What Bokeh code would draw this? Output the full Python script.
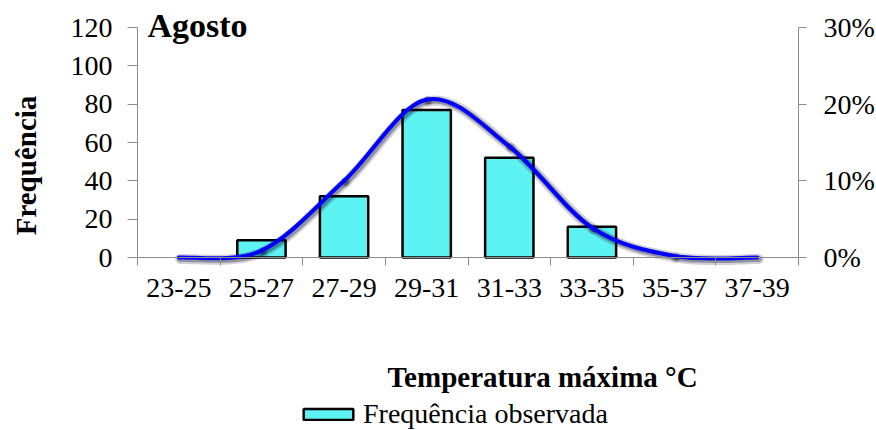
import numpy as np
from bokeh.plotting import figure
from bokeh.models import (Range1d, LinearAxis, FixedTicker, NumeralTickFormatter,
                          Label, Legend, LegendItem)
from bokeh.embed import file_html
from bokeh.resources import INLINE

# ---- data ----
categories = ["23-25", "25-27", "27-29", "29-31", "31-33", "33-35", "35-37", "37-39"]
observed = [0, 9, 32, 77, 52, 16, 0, 0]                  # Frequência observada
expected_pct = [0.0, 0.9, 10.0, 20.6, 14.5, 3.9, 0.2, 0.0]  # curva (eixo direito, %)
left_ticks = [0, 20, 40, 60, 80, 100, 120]
right_ticks = [0.0, 0.10, 0.20, 0.30]
left_max = 120
right_max = 0.30

FONT = "Liberation Serif"
AXIS_GRAY = "#8c8c8c"

W, H = 876, 430
# plot-area placement (pixels) inside the canvas
PX_L, PX_R, PX_T, PX_B = 137, 798, 27, 257

n = len(categories)
centers = [i + 0.5 for i in range(n)]

sx = (PX_R - PX_L) / n            # px per category
sy = (PX_B - PX_T) / left_max     # px per frequency unit
x0r = -PX_L / sx
x1r = (W - PX_L) / sx
y1r = PX_B / sy
y0r = -(H - PX_B) / sy
k = right_max / left_max

p = figure(width=W, height=H, output_backend="svg", toolbar_location=None,
           x_range=Range1d(x0r, x1r), y_range=Range1d(y0r, y1r),
           x_axis_location=None, y_axis_location=None,
           min_border=0, min_border_left=0, min_border_right=0,
           min_border_top=0, min_border_bottom=0)
p.outline_line_color = None
p.grid.visible = False
p.background_fill_color = "white"
p.border_fill_color = "white"
p.extra_y_ranges = {"pct": Range1d(y0r * k, y1r * k)}

# x axis
xa = LinearAxis(fixed_location=0, bounds=(0, n),
                ticker=FixedTicker(ticks=centers, minor_ticks=list(range(n + 1))))
xa.major_label_overrides = {c: lab for c, lab in zip(centers, categories)}
xa.major_tick_out = 0
xa.major_tick_in = 0
xa.minor_tick_out = 8
xa.minor_tick_in = 0
xa.minor_tick_line_color = AXIS_GRAY
xa.axis_line_color = AXIS_GRAY
xa.major_label_standoff = 13
xa.major_label_text_font = FONT
xa.major_label_text_font_size = "28px"
xa.major_label_text_color = "black"
p.add_layout(xa, "below")

# left axis
ya = LinearAxis(fixed_location=0, bounds=(0, left_max),
                ticker=FixedTicker(ticks=left_ticks, minor_ticks=[]))
ya.major_tick_out = 10
ya.major_tick_in = 0
ya.minor_tick_out = 0
ya.major_tick_line_color = AXIS_GRAY
ya.axis_line_color = AXIS_GRAY
ya.major_label_standoff = 15
ya.major_label_text_font = FONT
ya.major_label_text_font_size = "28px"
ya.major_label_text_color = "black"
p.add_layout(ya, "left")

# right axis
ra = LinearAxis(y_range_name="pct", fixed_location=n, bounds=(0, right_max),
                ticker=FixedTicker(ticks=right_ticks, minor_ticks=[]),
                formatter=NumeralTickFormatter(format="0%"))
ra.major_tick_out = 8
ra.major_tick_in = 0
ra.minor_tick_out = 0
ra.major_tick_line_color = AXIS_GRAY
ra.axis_line_color = AXIS_GRAY
ra.major_label_standoff = 17
ra.major_label_text_font = FONT
ra.major_label_text_font_size = "28px"
ra.major_label_text_color = "black"
p.add_layout(ra, "right")

# bars
bx = [c for c, v in zip(centers, observed) if v > 0]
bt = [v for v in observed if v > 0]
bars = p.vbar(x=bx, top=bt, bottom=0, width=0.585, fill_color="#5EF3F3",
              line_color="black", line_width=2.5)

# smoothed curve (Bezier through the data points)
xs = np.array(centers, dtype=float)
ys = np.array(expected_pct, dtype=float) / 100.0
xp = np.concatenate([[xs[0]], xs, [xs[-1]]])
yp = np.concatenate([[ys[0]], ys, [ys[-1]]])
t = 1.0 / 6.0
bx0, by0 = xs[:-1], ys[:-1]
bx1, by1 = xs[1:], ys[1:]
cx0 = bx0 + (xp[2:-1] - xp[:-3]) * t
cy0 = by0 + (yp[2:-1] - yp[:-3]) * t
cx1 = bx1 - (xp[3:] - xp[1:-2]) * t
cy1 = by1 - (yp[3:] - yp[1:-2]) * t
# soft shadow, shifted slightly down-right
dx = 1.5 / sx
dy = -1.5 / sy * k
p.bezier(x0=bx0 + dx, y0=by0 + dy, x1=bx1 + dx, y1=by1 + dy, cx0=cx0 + dx, cy0=cy0 + dy,
         cx1=cx1 + dx, cy1=cy1 + dy, y_range_name="pct", line_color="#000020",
         line_alpha=0.18, line_width=10, line_cap="round")
p.bezier(x0=bx0 + dx, y0=by0 + dy, x1=bx1 + dx, y1=by1 + dy, cx0=cx0 + dx, cy0=cy0 + dy,
         cx1=cx1 + dx, cy1=cy1 + dy, y_range_name="pct", line_color="#000020",
         line_alpha=0.3, line_width=6, line_cap="round")
p.bezier(x0=bx0, y0=by0, x1=bx1, y1=by1, cx0=cx0, cy0=cy0, cx1=cx1, cy1=cy1,
         y_range_name="pct", line_color="#0000FF", line_width=4, line_cap="round")

# texts
p.add_layout(Label(x=(147 - PX_L) / sx, y=(PX_B - 25) / sy, text="Agosto", text_font=FONT,
                   text_font_size="34px", text_font_style="bold", text_color="black",
                   text_align="left", text_baseline="alphabetic"))
p.add_layout(Label(x=(25 - PX_L) / sx, y=(PX_B - 165) / sy, text="Frequência", text_font=FONT,
                   text_font_size="29px", text_font_style="bold", text_color="black",
                   angle=np.pi / 2, text_align="center", text_baseline="alphabetic"))
p.add_layout(Label(x=(542 - PX_L) / sx, y=(PX_B - 376) / sy, text="Temperatura máxima °C",
                   text_font=FONT, text_font_size="29px", text_font_style="bold",
                   text_color="black", text_align="center", text_baseline="alphabetic"))

legend = Legend(items=[LegendItem(label="Frequência observada", renderers=[bars])],
                location=(297, 0), orientation="horizontal", padding=0, margin=0,
                border_line_color=None, background_fill_alpha=0,
                label_text_font=FONT, label_text_font_size="28px", label_text_color="black",
                glyph_width=62, glyph_height=14, label_standoff=4, spacing=0)
p.add_layout(legend)

open("out.html", "w").write(file_html(p, INLINE))
